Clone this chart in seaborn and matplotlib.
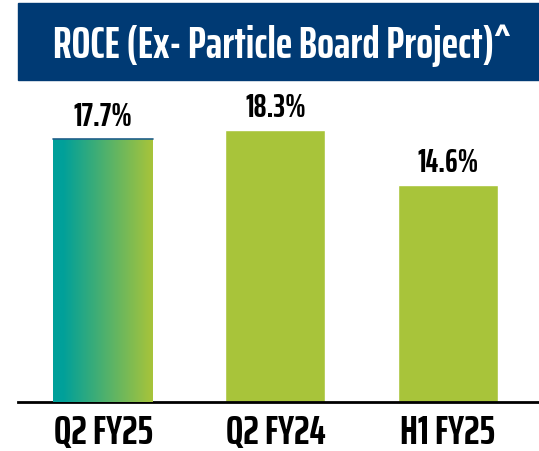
import matplotlib.pyplot as plt
import matplotlib.patches as mpatches
from matplotlib.colors import LinearSegmentedColormap
import numpy as np
import seaborn as sns

periods = ["Q2 FY25", "Q2 FY24", "H1 FY25"]
roce = [17.7, 18.3, 14.6]
labels = ["17.7%", "18.3%", "14.6%"]

navy = "#003a74"
green = "#a8c43a"
teal = "#00a09a"
font = "Saira ExtraCondensed"

sns.set_style("white")
fig = plt.figure(figsize=(5.39, 4.51), dpi=100)

# title banner
fig.patches.append(mpatches.Rectangle((18 / 539, 1 - 80 / 451), 1 - 18 / 539, 77 / 451,
                                      transform=fig.transFigure, color=navy, zorder=0))
fig.text(282 / 539, 1 - 46 / 451, "ROCE (Ex- Particle Board Project)^", color="white",
         fontsize=32, fontweight="bold", family=font, ha="center", va="center")

ax = fig.add_axes([18 / 539, 49 / 451, 1 - 18 / 539, 317 / 451])
sns.barplot(x=periods, y=roce, color=green, width=0.58, saturation=1, ax=ax)
ax.set_xlim(-0.494, 2.53)
ax.set_ylim(0, 21.35)

# gradient on first bar
bar = ax.patches[0]
x0, w, h = bar.get_x(), bar.get_width(), bar.get_height()
cmap = LinearSegmentedColormap.from_list("g", [(0, teal), (0.1, teal), (1, green)])
grad = np.linspace(0, 1, 256).reshape(1, -1)
im = ax.imshow(grad, cmap=cmap, extent=[x0, x0 + w, 0, h], aspect="auto", zorder=3)
im.set_clip_path(bar)
ax.plot([x0, x0 + w], [h, h], color="#1f5f8a", lw=1.2, zorder=4)

for i, (v, t) in enumerate(zip(roce, labels)):
    ax.text(i, v + 0.5, t, ha="center", va="bottom", fontsize=23,
            fontweight="bold", family=font, color="black")

ax.set_yticks([])
ax.set_xticks(range(len(periods)))
ax.set_xticklabels(periods, fontsize=29.5, fontweight="bold", family=font)
ax.tick_params(axis="x", length=0, pad=9, colors="black")
for s in ["top", "right", "left"]:
    ax.spines[s].set_visible(False)
ax.spines["bottom"].set_color("black")
ax.spines["bottom"].set_linewidth(2)

fig.savefig("out.png", dpi=100)
